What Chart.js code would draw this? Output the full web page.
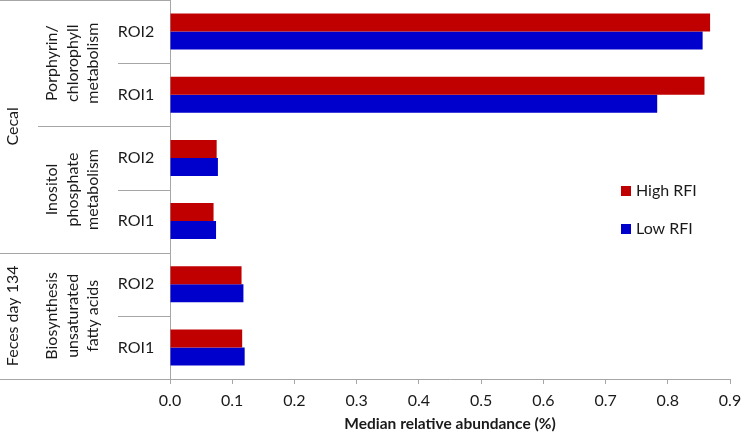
<!DOCTYPE html>
<html>
<head>
<meta charset="utf-8">
<script src="https://cdn.jsdelivr.net/npm/chart.js@4.4.1/dist/chart.umd.min.js"></script>
<style>
  html, body { margin: 0; padding: 0; background: #fff; }
  #wrap { width: 750px; height: 437px; position: relative; }
</style>
</head>
<body>
<div id="wrap"><canvas id="chart"></canvas></div>
<script>
// rows, top to bottom
const roiLabels      = ['ROI2', 'ROI1', 'ROI2', 'ROI1', 'ROI2', 'ROI1'];
const pathwayLabels  = [
  ['Porphyrin/', 'chlorophyll', 'metabolism'],
  ['Inositol', 'phosphate', 'metabolism'],
  ['Biosynthesis', 'unsaturated', 'fatty acids'],
];
const pathwaySpans   = [2, 2, 2];
const sampleLabels   = ['Cecal', 'Feces day 134'];
const sampleSpans    = [4, 2];

const highRFI = [0.868, 0.859, 0.075, 0.070, 0.115, 0.116];
const lowRFI  = [0.856, 0.783, 0.077, 0.074, 0.118, 0.120];

const xTicks = [0.0, 0.1, 0.2, 0.3, 0.4, 0.5, 0.6, 0.7, 0.8, 0.9];

const FONT      = "Lato, 'Open Sans', sans-serif";
const TEXT      = '#1a1a1a';
const LINE      = '#a6a6a6';
const RED       = '#C00000';
const BLUE      = '#0000CC';

const leftLabels = {
  id: 'leftLabels',
  afterDraw(chart) {
    const { ctx, chartArea: a, scales: { y } } = chart;
    const L = a.left;
    const rowY = i => y.getPixelForValue(i);
    const edge = i => {              // boundary above row i
      if (i <= 0) return a.top;
      if (i >= roiLabels.length) return a.bottom;
      return (rowY(i - 1) + rowY(i)) / 2;
    };
    const hline = (yy, x0) => {
      ctx.beginPath();
      ctx.moveTo(x0, Math.round(yy) + 0.5);
      ctx.lineTo(L, Math.round(yy) + 0.5);
      ctx.stroke();
    };

    ctx.save();
    ctx.strokeStyle = LINE;
    ctx.lineWidth = 1;

    // separators
    const sampleEdges = [0];
    sampleSpans.forEach(s => sampleEdges.push(sampleEdges[sampleEdges.length - 1] + s));
    const pathEdges = [0];
    pathwaySpans.forEach(s => pathEdges.push(pathEdges[pathEdges.length - 1] + s));
    for (let i = 0; i <= roiLabels.length; i++) {
      let x0 = L - 52;
      if (sampleEdges.includes(i)) x0 = 0;
      else if (pathEdges.includes(i)) x0 = L - 132;
      hline(edge(i), x0);
    }

    ctx.fillStyle = TEXT;
    ctx.textAlign = 'center';
    ctx.textBaseline = 'middle';
    ctx.font = '16px ' + FONT;

    // ROI labels
    roiLabels.forEach((lab, i) => ctx.fillText(lab, L - 34, rowY(i)));

    // pathway labels (rotated)
    let r = 0;
    pathwayLabels.forEach((lines, k) => {
      const cy = (edge(r) + edge(r + pathwaySpans[k])) / 2;
      lines.forEach((ln, j) => {
        ctx.save();
        ctx.translate(L - 118 + j * 20.5, cy);
        ctx.rotate(-Math.PI / 2);
        ctx.fillText(ln, 0, 0);
        ctx.restore();
      });
      r += pathwaySpans[k];
    });

    // sample labels (rotated)
    r = 0;
    sampleLabels.forEach((lab, k) => {
      const cy = (edge(r) + edge(r + sampleSpans[k])) / 2;
      ctx.save();
      ctx.translate(L - 157, cy);
      ctx.rotate(-Math.PI / 2);
      ctx.fillText(lab, 0, 0);
      ctx.restore();
      r += sampleSpans[k];
    });

    // legend
    const items = [['High RFI', RED], ['Low RFI', BLUE]];
    ctx.textAlign = 'left';
    items.forEach(([lab, col], k) => {
      const ly = 191 + k * 38;
      ctx.fillStyle = col;
      ctx.fillRect(a.left + 451, ly - 5, 10, 10);
      ctx.fillStyle = TEXT;
      ctx.fillText(lab, a.left + 466, ly);
    });
    ctx.restore();
  },
};

new Chart(document.getElementById('chart'), {
  type: 'bar',
  data: {
    labels: roiLabels,
    datasets: [
      { label: 'High RFI', data: highRFI, backgroundColor: RED },
      { label: 'Low RFI',  data: lowRFI,  backgroundColor: BLUE },
    ],
  },
  options: {
    indexAxis: 'y',
    responsive: true, maintainAspectRatio: false,
    animation: false,
    categoryPercentage: 0.57,
    barPercentage: 1.0,
    layout: { padding: { left: 0, right: 20, top: 0, bottom: 0 } },
    plugins: { legend: { display: false }, tooltip: { enabled: false } },
    scales: {
      x: {
        min: 0, max: 0.9,
        afterBuildTicks: s => { s.ticks = xTicks.map(v => ({ value: v })); },
        grid: { drawOnChartArea: false, tickLength: 5, color: LINE },
        border: { color: LINE },
        ticks: { color: TEXT, padding: 7, font: { family: FONT, size: 16 }, callback: v => v.toFixed(1), maxRotation: 0 },
        title: { display: true, text: 'Median relative abundance (%)', color: TEXT, padding: { top: 2, bottom: 4 }, font: { family: FONT, size: 15.5, weight: 'bold' } },
        afterFit: s => { s.height = 58; },
      },
      y: {
        grid: { display: false },
        border: { color: LINE },
        ticks: { display: false },
        afterFit: s => { s.width = 170; },
      },
    },
  },
  plugins: [leftLabels],
});
</script>
</body>
</html>
